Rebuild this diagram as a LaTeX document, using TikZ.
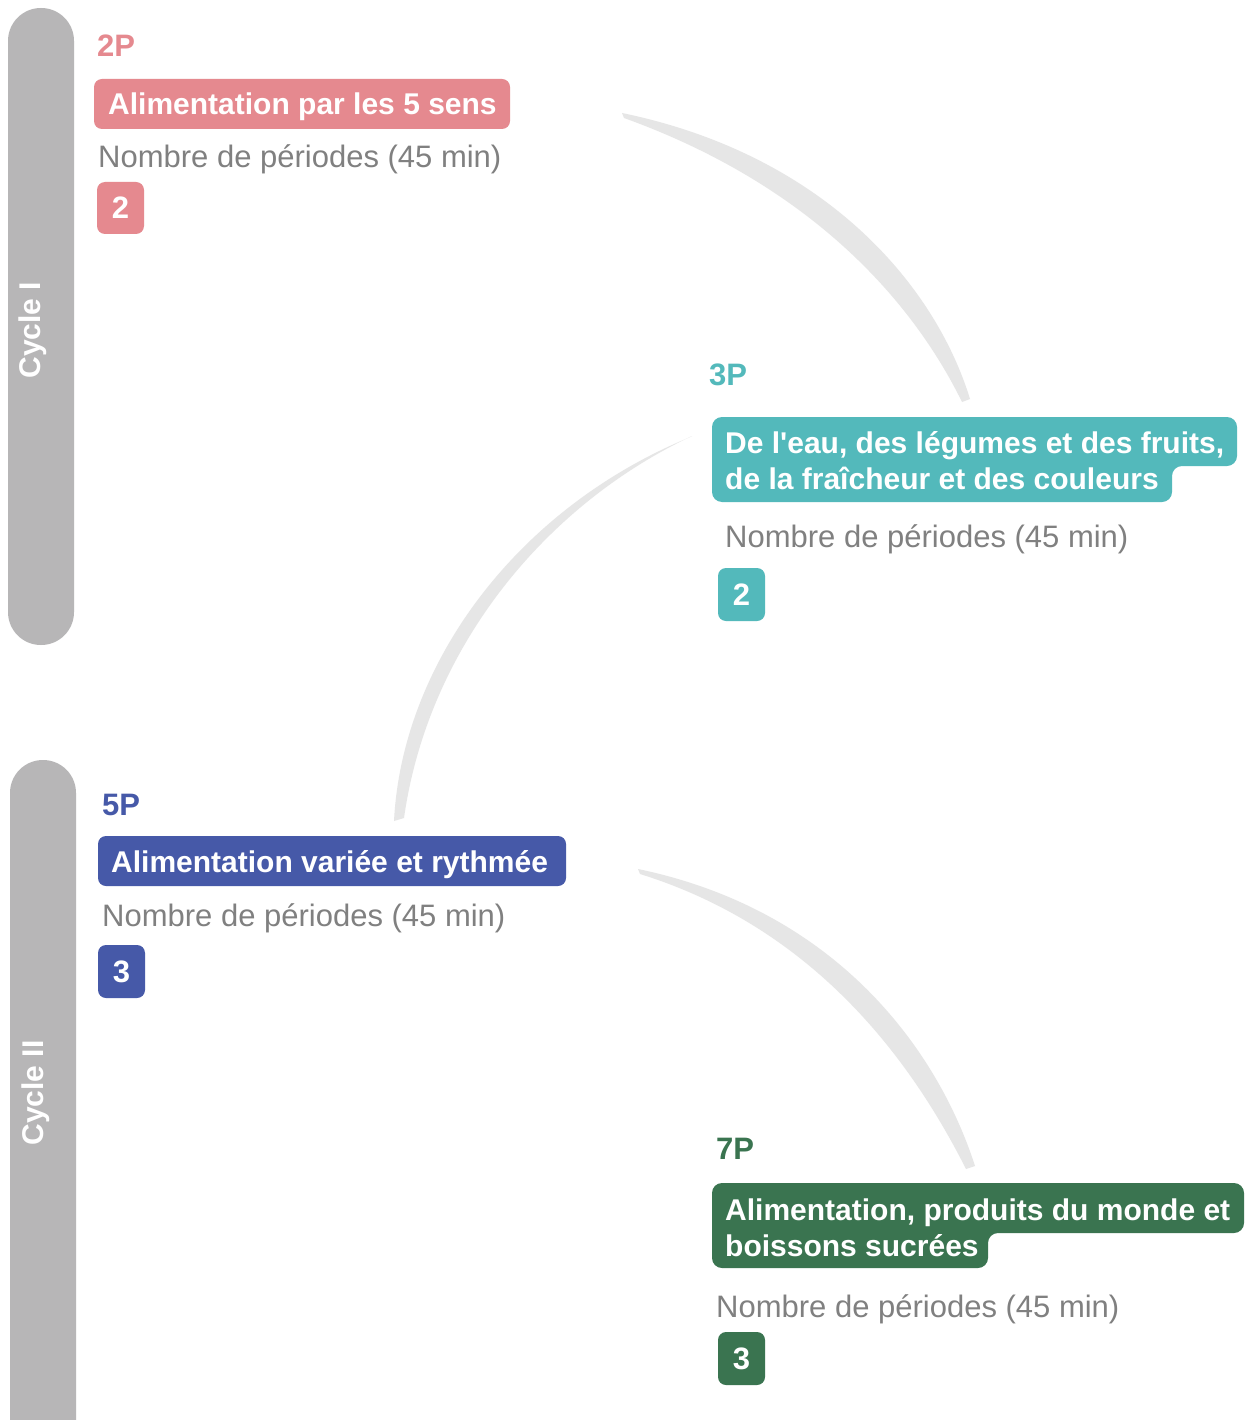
\documentclass[tikz,border=0pt]{standalone}
\usepackage{fontspec}
\setmainfont{Liberation Sans}
\newfontfamily\ff{Liberation Sans}
\definecolor{pinkc}{HTML}{E5898F}
\definecolor{tealc}{HTML}{53B9BB}
\definecolor{bluec}{HTML}{4659A8}
\definecolor{greenc}{HTML}{3A7450}
\definecolor{barc}{HTML}{B7B6B7}
\definecolor{txtg}{HTML}{808080}
\definecolor{brush}{HTML}{E6E6E6}
\begin{document}
\begin{tikzpicture}[x=1pt,y=-1pt,
  lvl/.style={anchor=base west,inner sep=0pt,font=\ff\fontsize{31}{31}\selectfont\bfseries},
  ttl/.style={anchor=base west,inner sep=0pt,text=white,font=\ff\fontsize{30}{30}\selectfont\bfseries},
  nbr/.style={anchor=base west,inner sep=0pt,text=txtg,font=\ff\fontsize{31}{31}\selectfont},
  numtxt/.style={inner sep=0pt,text=white,font=\ff\fontsize{31}{31}\selectfont\bfseries},
  cyc/.style={rotate=90,inner sep=0pt,text=white,font=\ff\fontsize{30}{30}\selectfont\bfseries},
  rc/.style={rounded corners=8pt}]
\useasboundingbox (0,0) rectangle (1246,1420);
\fill[white] (0,0) rectangle (1246,1420);

% cycle bars
\fill[barc,rounded corners=32.9pt] (8,8) rectangle (74,645);
\node[cyc] (cyc1) at (33,330) {Cycle I};
\fill[barc,rounded corners=32.9pt] (10,760) rectangle (76,1500);
\node[cyc] (cyc2) at (36,1093) {Cycle II};

% brush strokes
\coordinate (b1s) at (622,113); \coordinate (b1e) at (966,401);
\coordinate (b2s) at (692,436); \coordinate (b2e) at (398,820);
\coordinate (b3s) at (638,869); \coordinate (b3e) at (970,1168);
\fill[brush] (b1s) .. controls (825,155) and (935,285) .. (970,399) -- (962,402) .. controls (912,300) and (810,185) .. (624,118) -- cycle;
\fill[brush] (b2s) .. controls (545,505) and (428,648) .. (404,818) -- (394,821) .. controls (402,665) and (515,510) .. (688,438) -- cycle;
\fill[brush] (b3s) .. controls (835,910) and (937,1048) .. (975,1166) -- (966,1169) .. controls (915,1068) and (820,930) .. (640,874) -- cycle;

% 2P
\node[lvl,text=pinkc] (l2) at (97,57) {2P};
\fill[pinkc,rc] (94,79) rectangle (510,129);
\node[ttl] (t2) at (108,115) {Alimentation par les 5 sens};
\node[nbr] (n2) at (98,168) {Nombre de périodes (45 min)};
\fill[pinkc,rc] (97,182) rectangle (144,234);
\node[numtxt] (v2) at (120.5,208) {2};

% 3P
\node[lvl,text=tealc] (l3) at (709,385) {3P};
\fill[tealc,rounded corners=10pt] (712,417) -- (1237,417) -- (1237,466) -- (1172,466) -- (1172,502) -- (712,502) -- cycle;
\node[ttl] (t3a) at (725,453) {De l'eau, des légumes et des fruits,};
\node[ttl] (t3b) at (725,489) {de la fraîcheur et des couleurs};
\node[nbr] (n3) at (725,547) {Nombre de périodes (45 min)};
\fill[tealc,rc] (718,568) rectangle (765,621);
\node[numtxt] (v3) at (741.5,594.5) {2};

% 5P
\node[lvl,text=bluec] (l5) at (102,815) {5P};
\fill[bluec,rc] (98,836) rectangle (566,886);
\node[ttl] (t5) at (111,872) {Alimentation variée et rythmée};
\node[nbr] (n5) at (102,926) {Nombre de périodes (45 min)};
\fill[bluec,rc] (98,945) rectangle (145,998);
\node[numtxt] (v5) at (121.5,971.5) {3};

% 7P
\node[lvl,text=greenc] (l7) at (716,1159) {7P};
\fill[greenc,rounded corners=10pt] (712,1183) -- (1244,1183) -- (1244,1233) -- (988,1233) -- (988,1268) -- (712,1268) -- cycle;
\node[ttl] (t7a) at (725,1220) {Alimentation, produits du monde et};
\node[ttl] (t7b) at (725,1256) {boissons sucrées};
\node[nbr] (n7) at (716,1317) {Nombre de périodes (45 min)};
\fill[greenc,rc] (718,1332) rectangle (765,1385);
\node[numtxt] (v7) at (741.5,1358.5) {3};
\end{tikzpicture}
\end{document}
